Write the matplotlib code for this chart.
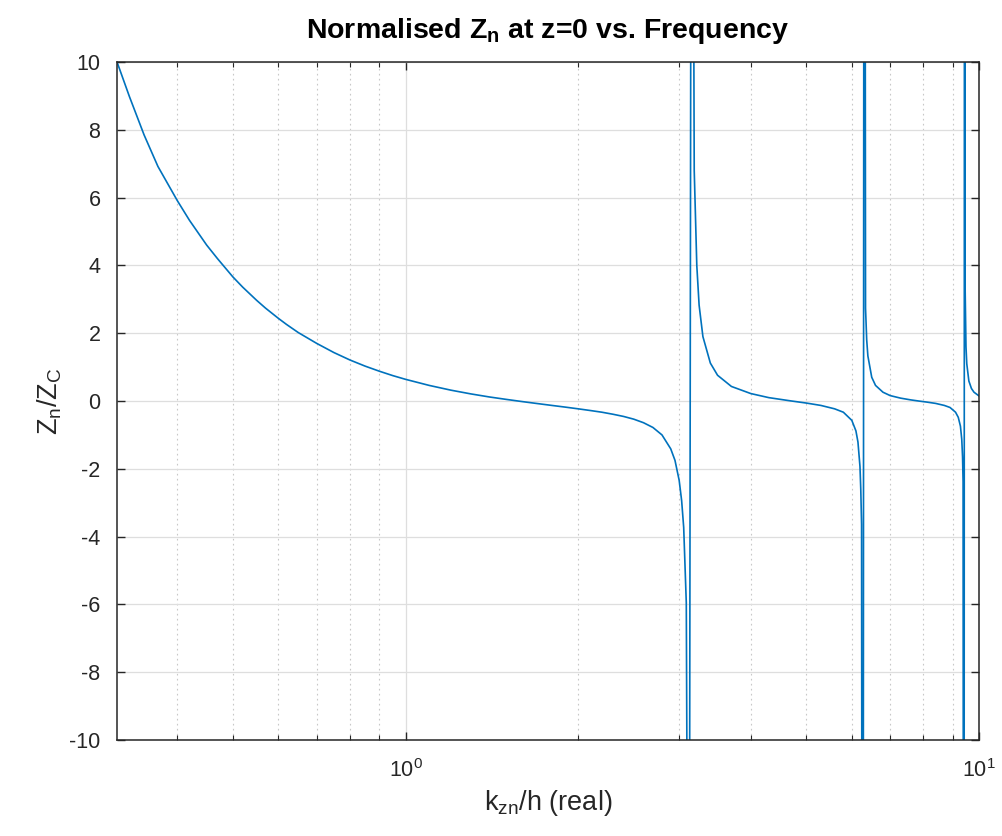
import matplotlib
matplotlib.use("Agg")
import matplotlib.pyplot as plt
from matplotlib.ticker import FixedLocator, NullFormatter

plt.rcParams['font.family'] = ['Liberation Sans', 'DejaVu Sans']
plt.rcParams['mathtext.default'] = 'regular'

# values (points past the poles go off the axes)
k_zn = [0.314, 0.33, 0.35, 0.37, 0.40, 0.42, 0.45, 0.47, 0.50, 0.52, 0.55, 0.57,
        0.60, 0.62, 0.65, 0.70, 0.75, 0.80, 0.85, 0.90, 0.95, 1.00,
        1.10, 1.20, 1.30, 1.40, 1.50, 1.60, 1.70, 1.80, 1.90, 2.00, 2.10, 2.20,
        2.30, 2.40, 2.50, 2.60, 2.70, 2.80, 2.90, 2.95, 3.00, 3.03, 3.055, 3.087,
        3.12, 3.155, 3.187, 3.22, 3.25, 3.30, 3.40, 3.50, 3.70, 4.00, 4.30, 4.70,
        5.00, 5.30, 5.60, 5.80, 6.00, 6.10, 6.15, 6.20, 6.22, 6.24, 6.27, 6.31,
        6.34, 6.37, 6.40, 6.50, 6.60, 6.80, 7.00, 7.30, 7.60, 7.85, 8.10, 8.40,
        8.70, 8.90, 9.10, 9.20, 9.28, 9.33, 9.36, 9.38, 9.41, 9.44, 9.456, 9.49,
        9.52, 9.60, 9.70, 9.80, 10.0]
z_norm = [10.0, 8.98, 7.85, 6.92, 5.91, 5.33, 4.60, 4.20, 3.66, 3.36, 2.97, 2.74,
          2.44, 2.26, 2.02, 1.70, 1.43, 1.21, 1.03, 0.88, 0.75, 0.64,
          0.46, 0.32, 0.21, 0.12, 0.047, -0.018, -0.076, -0.13, -0.18, -0.23, -0.28, -0.33,
          -0.39, -0.455, -0.535, -0.64, -0.78, -1.0, -1.41, -1.75, -2.34, -2.94, -3.73, -5.95,
          -25.0, 30.0, 6.8, 4.0, 2.83, 1.9, 1.12, 0.76, 0.43, 0.22, 0.10, 0.003,
          -0.06, -0.13, -0.23, -0.33, -0.57, -0.88, -1.21, -1.93, -2.6, -3.64, -40.0, 40.0,
          2.74, 1.8, 1.33, 0.70, 0.46, 0.26, 0.16, 0.085, 0.034, 0.0, -0.03, -0.07,
          -0.13, -0.19, -0.33, -0.48, -0.74, -1.13, -1.65, -2.38, -40.0, 40.0, 3.4, 1.6,
          1.1, 0.59, 0.37, 0.26, 0.15]

y_ticks = [-10, -8, -6, -4, -2, 0, 2, 4, 6, 8, 10]
x_major = [1, 10]
x_minor = [0.4, 0.5, 0.6, 0.7, 0.8, 0.9, 2, 3, 4, 5, 6, 7, 8, 9]

axis_col = '#262626'

fig = plt.figure(figsize=(10.03, 8.36), dpi=100)
ax = fig.add_axes([0.1167, 0.1148, 0.8594, 0.8110])

ax.plot(k_zn, z_norm, color='#0072BD', linewidth=1.2)

ax.set_xscale('log')
ax.set_xlim(0.314, 10)
ax.set_ylim(-10, 10)

ax.xaxis.set_major_locator(FixedLocator(x_major))
ax.set_xticklabels(['$10^0$', '$10^1$'])
ax.xaxis.set_minor_locator(FixedLocator(x_minor))
ax.xaxis.set_minor_formatter(NullFormatter())
ax.set_yticks(y_ticks)
ax.set_yticklabels([str(v) for v in y_ticks])

ax.grid(True, which='major', color='#dedede', linewidth=0.9, linestyle='-')
ax.grid(True, which='minor', axis='x', color='#c8c8c8', linewidth=0.8, linestyle=(0, (1.5, 3)))
ax.set_axisbelow(True)

ax.tick_params(which='both', direction='in', top=True, right=True, colors=axis_col,
               labelsize=15.5, labelcolor=axis_col)
ax.tick_params(which='major', length=6, width=1)
ax.tick_params(which='minor', length=3.5, width=0.8)
ax.tick_params(axis='x', which='major', pad=14)
ax.tick_params(axis='y', which='major', pad=12)
for s in ax.spines.values():
    s.set_color(axis_col)
    s.set_linewidth(1.1)

ax.set_title('Normalised Z$_n$ at z=0 vs. Frequency', fontsize=20.5, fontweight='bold',
             color='black', pad=17)
ax.set_xlabel('k$_{zn}$/h (real)', fontsize=19.5, color=axis_col, labelpad=4)
ax.set_ylabel('Z$_n$/Z$_C$', fontsize=19.5, color=axis_col, labelpad=4)

fig.savefig('out.png', dpi=100)
